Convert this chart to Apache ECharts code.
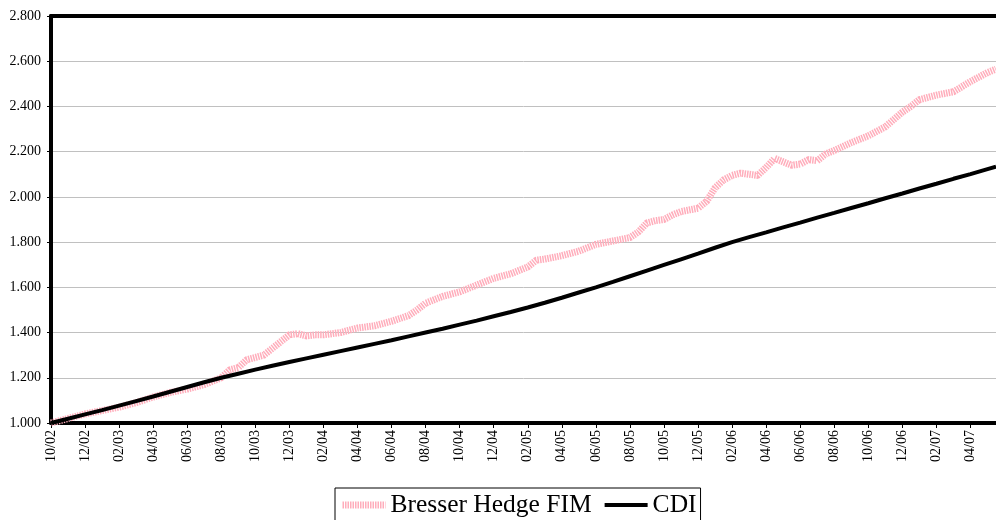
<!DOCTYPE html>
<html>
<head>
<meta charset="utf-8">
<script src="https://cdn.jsdelivr.net/npm/echarts@6/dist/echarts.min.js"></script>
<style>
html,body{margin:0;padding:0;background:#fff;}
#chart{width:996px;height:520px;}
</style>
</head>
<body>
<div id="chart"></div>
<script>
// x = months since Oct/2002
const xTickLabels = ['10/02','12/02','02/03','04/03','06/03','08/03','10/03','12/03','02/04','04/04','06/04','08/04','10/04','12/04','02/05','04/05','06/05','08/05','10/05','12/05','02/06','04/06','06/06','08/06','10/06','12/06','02/07','04/07'];
const yTickLabels = ['1.000','1.200','1.400','1.600','1.800','2.000','2.200','2.400','2.600','2.800'];

const fimMonth = [0,1,2,3,4,5,6,7,8,9,10,10.5,11,11.5,12,12.5,13,13.5,14,14.5,15,15.5,16,17,18,19,20,21,21.5,22,22.5,23,24,25,26,27,28,28.5,29,30,31,32,33,34,34.5,35,35.5,36,36.5,37,38,38.5,39,39.5,40,40.5,41,41.5,42,42.5,43,43.5,44,44.5,45,45.5,46,47,48,49,50,50.5,51,52,53,54,55,55.5];
const fimValue = [1.000,1.020,1.040,1.055,1.070,1.090,1.115,1.135,1.150,1.170,1.200,1.235,1.245,1.280,1.290,1.300,1.330,1.360,1.390,1.395,1.385,1.390,1.390,1.400,1.420,1.430,1.450,1.475,1.500,1.530,1.545,1.560,1.580,1.610,1.640,1.660,1.690,1.720,1.725,1.740,1.760,1.790,1.805,1.820,1.845,1.885,1.895,1.900,1.920,1.935,1.950,1.980,2.040,2.075,2.095,2.105,2.100,2.095,2.130,2.170,2.155,2.140,2.145,2.165,2.160,2.190,2.205,2.240,2.270,2.310,2.375,2.400,2.430,2.450,2.465,2.510,2.550,2.565];

const cdiMonth = [0,1,2,3,4,5,6,7,8,9,10,11,12,13,14,15,16,17,18,19,20,21,22,23,24,25,26,27,28,29,30,31,32,33,34,35,36,37,38,39,40,41,42,43,44,45,46,47,48,49,50,51,52,53,54,55,55.5];
const cdiValue = [1.000,1.019,1.038,1.057,1.077,1.097,1.117,1.138,1.159,1.180,1.200,1.218,1.236,1.253,1.270,1.286,1.302,1.318,1.334,1.350,1.366,1.383,1.400,1.417,1.435,1.453,1.472,1.491,1.511,1.532,1.554,1.577,1.600,1.624,1.649,1.674,1.699,1.724,1.749,1.775,1.800,1.822,1.843,1.865,1.886,1.908,1.929,1.951,1.972,1.994,2.015,2.037,2.058,2.080,2.101,2.123,2.134];

const fimData = fimMonth.map((m, i) => [m, fimValue[i]]);
const cdiData = cdiMonth.map((m, i) => [m, cdiValue[i]]);
const tickValues = xTickLabels.map((_, i) => i * 2);

const serif = 'Liberation Serif';
const pink = '#FFADBB';
const chart = echarts.init(document.getElementById('chart'), null, {renderer: 'canvas'});
chart.setOption({
  animation: false,
  backgroundColor: '#fff',
  grid: {left: 51, top: 16, right: 0, bottom: 97},
  legend: {
    left: 335, top: 488,
    padding: [4, 4, 10, 4],
    borderColor: '#000', borderWidth: 1,
    itemWidth: 43, itemHeight: 14, itemGap: 11,
    itemStyle: {opacity: 0},
    textStyle: {fontFamily: serif, fontSize: 25.5, color: '#000'},
    data: [
      {name: 'Bresser Hedge FIM', lineStyle: {width: 7, color: pink, type: [1.5, 1], cap: 'butt'}},
      {name: 'CDI', lineStyle: {width: 4, color: '#000', type: 'solid'}}
    ]
  },
  xAxis: [{
    type: 'value', min: 0, max: 55.5, interval: 2,
    axisLine: {show: true, lineStyle: {color: '#000', width: 4}},
    axisTick: {show: true, length: 5, lineStyle: {color: '#000', width: 1}, customValues: tickValues},
    axisLabel: {
      rotate: 90, margin: 7, color: '#000', fontFamily: serif, fontSize: 14,
      customValues: tickValues,
      formatter: v => xTickLabels[Math.round(v / 2)] || ''
    },
    splitLine: {show: false}
  }, {
    type: 'value', position: 'top', min: 0, max: 55.5,
    axisLine: {show: true, lineStyle: {color: '#000', width: 4}},
    axisTick: {show: false}, axisLabel: {show: false}, splitLine: {show: false}
  }],
  yAxis: {
    type: 'value', min: 1, max: 2.8, interval: 0.2,
    axisLine: {show: true, lineStyle: {color: '#000', width: 4}},
    axisTick: {show: true, length: 4, lineStyle: {color: '#000', width: 1}},
    axisLabel: {
      margin: 10, color: '#000', fontFamily: serif, fontSize: 14,
      formatter: v => yTickLabels[Math.round((v - 1) / 0.2)] || ''
    },
    splitLine: {show: true, lineStyle: {color: '#c0c0c0', width: 1}}
  },
  series: [{
    name: 'Bresser Hedge FIM', type: 'line', symbol: 'none', smooth: false,
    data: fimData,
    lineStyle: {color: pink, width: 7, type: [1.5, 1], cap: 'butt'},
    itemStyle: {color: pink},
    z: 2
  }, {
    name: 'CDI', type: 'line', symbol: 'none',
    data: cdiData,
    lineStyle: {color: '#000', width: 4},
    itemStyle: {color: '#000'},
    z: 3
  }]
});
</script>
</body>
</html>
